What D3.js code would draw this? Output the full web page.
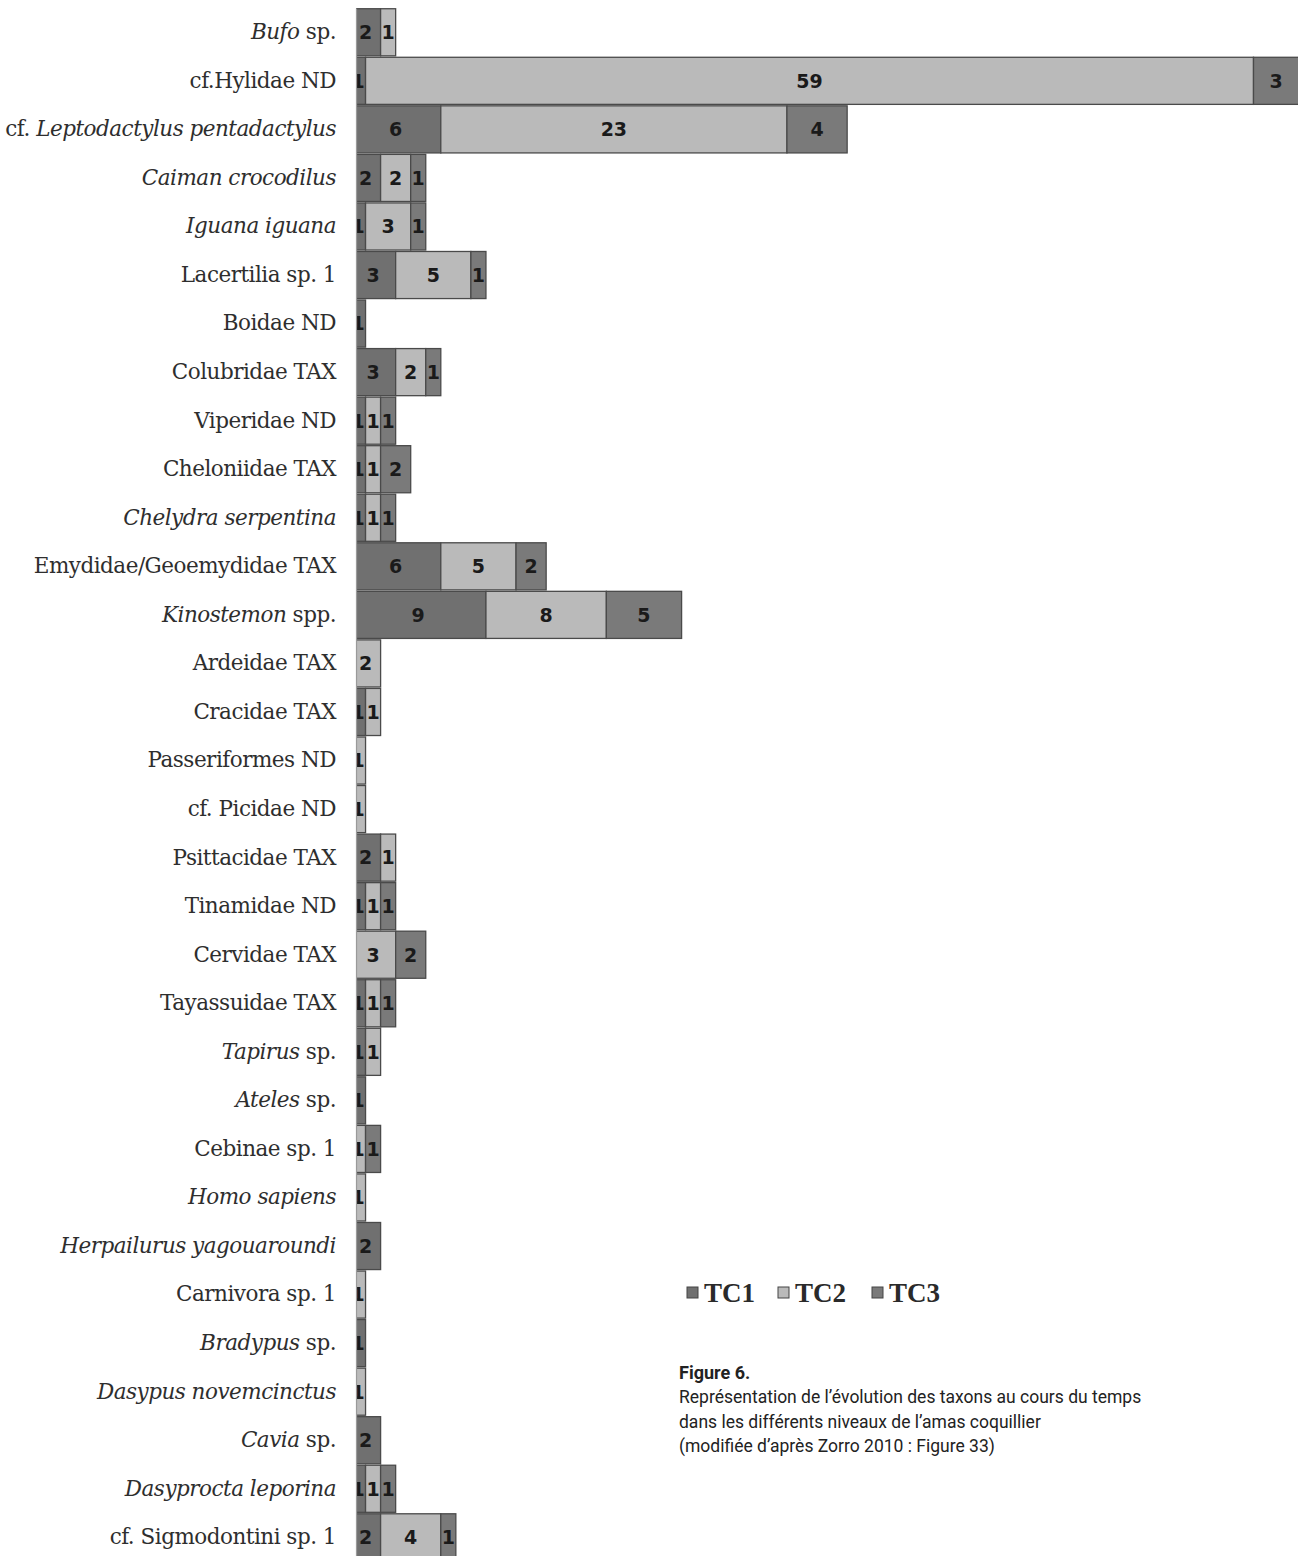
<!DOCTYPE html>
<html><head><meta charset="utf-8">
<script src="https://cdn.jsdelivr.net/npm/d3@7/dist/d3.min.js"></script>
<style>
html,body{margin:0;padding:0;background:#fff;}
svg{display:block;}
</style></head>
<body>
<svg id="chart" width="1298" height="1556"></svg>
<script>
// Categories (segments between <i></i> are italic)
const categories = [
  "<i>Bufo</i> sp.", "cf.Hylidae ND", "cf. <i>Leptodactylus pentadactylus</i>", "<i>Caiman crocodilus</i>",
  "<i>Iguana iguana</i>", "Lacertilia sp. 1", "Boidae ND", "Colubridae TAX", "Viperidae ND",
  "Cheloniidae TAX", "<i>Chelydra serpentina</i>", "Emydidae/Geoemydidae TAX", "<i>Kinostemon</i> spp.",
  "Ardeidae TAX", "Cracidae TAX", "Passeriformes ND", "cf. Picidae ND", "Psittacidae TAX",
  "Tinamidae ND", "Cervidae TAX", "Tayassuidae TAX", "<i>Tapirus</i> sp.", "<i>Ateles</i> sp.",
  "Cebinae sp. 1", "<i>Homo sapiens</i>", "<i>Herpailurus yagouaroundi</i>", "Carnivora sp. 1",
  "<i>Bradypus</i> sp.", "<i>Dasypus novemcinctus</i>", "<i>Cavia</i> sp.", "<i>Dasyprocta leporina</i>",
  "cf. Sigmodontini sp. 1"
];
const seriesNames = ["TC1", "TC2", "TC3"];
const tc1 = [2, 1, 6, 2, 1, 3, 1, 3, 1, 1, 1, 6, 9, 0, 1, 0, 0, 2, 1, 0, 1, 1, 1, 0, 0, 2, 0, 1, 0, 2, 1, 2];
const tc2 = [1, 59, 23, 2, 3, 5, 0, 2, 1, 1, 1, 5, 8, 2, 1, 1, 1, 1, 1, 3, 1, 1, 0, 1, 1, 0, 1, 0, 1, 0, 1, 4];
const tc3 = [0, 3, 4, 1, 1, 1, 0, 1, 1, 2, 1, 2, 5, 0, 0, 0, 0, 0, 1, 2, 1, 0, 0, 1, 0, 0, 0, 0, 0, 0, 1, 1];

const colors = ["#707070", "#bababa", "#7a7a7a"];

const svg = d3.select("#chart");
const axisX = 356;
const x = d3.scaleLinear().domain([0, 63]).range([350.5, 350.5 + 63 * 15.05]);
const y = d3.scaleBand().domain(categories).range([8, 8 + 32 * 48.55]).paddingInner(0.03).paddingOuter(0.015);

const rows = categories.map((c, i) => ({cat: c, TC1: tc1[i], TC2: tc2[i], TC3: tc3[i]}));
const stack = d3.stack().keys(seriesNames)(rows);

const defs = svg.append("defs");
defs.append("clipPath").attr("id", "plot").append("rect")
  .attr("x", axisX).attr("y", 0).attr("width", 1298 - axisX).attr("height", 1556);
const plot = svg.append("g").attr("clip-path", "url(#plot)");
let clipId = 0;
stack.forEach((layer, si) => {
  const g = plot.append("g");
  layer.forEach(d => {
    const w = x(d[1]) - x(d[0]);
    if (w <= 0) return;
    const id = "c" + (clipId++);
    const y0 = y(d.data.cat), h = y.bandwidth();
    defs.append("clipPath").attr("id", id).append("rect")
      .attr("x", x(d[0])).attr("y", y0).attr("width", w).attr("height", h);
    g.append("rect").attr("x", x(d[0])).attr("y", y0).attr("width", w).attr("height", h)
      .attr("fill", colors[si]).attr("stroke", "#4a4a4a").attr("stroke-width", 1.3);
    g.append("text").attr("clip-path", `url(#${id})`)
      .attr("x", (x(d[0]) + x(d[1])) / 2).attr("y", y0 + h / 2).attr("dy", "0.36em")
      .attr("text-anchor", "middle").attr("font-family", "DejaVu Sans").attr("font-weight", "bold")
      .attr("font-size", 19).attr("fill", "#1a1a1a").text(d[1] - d[0]);
  });
});

// category axis
const axis = svg.append("g").attr("transform", `translate(${axisX},0)`)
  .call(d3.axisLeft(y).tickSize(0).tickSizeOuter(0).tickPadding(20));
axis.select(".domain").attr("stroke", "#9a9a9a").attr("stroke-width", 1.2);
axis.selectAll(".tick text").each(function(d) {
  const t = d3.select(this);
  t.text(null).attr("font-family", "DejaVu Serif").attr("font-size", 21.5).attr("fill", "#2e2e2e")
   .attr("letter-spacing", "-0.5px").attr("dy", "0.32em");
  const parts = d.split(/(<i>|<\/i>)/);
  let ital = false;
  parts.forEach(p => {
    if (p === "<i>") { ital = true; return; }
    if (p === "</i>") { ital = false; return; }
    if (!p) return;
    t.append("tspan").attr("font-style", ital ? "italic" : "normal").text(p);
  });
});

// legend
const legend = svg.append("g");
const legX = [687, 778, 872];
seriesNames.forEach((s, i) => {
  legend.append("rect").attr("x", legX[i]).attr("y", 1287).attr("width", 11).attr("height", 11)
    .attr("fill", colors[i]).attr("stroke", "#444").attr("stroke-width", 1);
  legend.append("text").attr("x", legX[i] + 17).attr("y", 1302)
    .attr("font-family", "Liberation Serif").attr("font-weight", "bold").attr("font-size", 27)
    .attr("fill", "#2a2a2a").text(s);
});

// caption
const cap = svg.append("g").attr("font-family", "Liberation Sans Narrow, Roboto, sans-serif").attr("fill", "#222");
cap.append("text").attr("x", 679).attr("y", 1379).attr("font-weight", "bold").attr("font-size", 18).text("Figure 6.");
const capLines = [
  "Représentation de l’évolution des taxons au cours du temps",
  "dans les différents niveaux de l’amas coquillier",
  "(modifiée d’après Zorro 2010 : Figure 33)"
];
capLines.forEach((l, i) => cap.append("text").attr("x", 679).attr("y", 1403 + i * 24.5).attr("font-size", 17.5).text(l));
</script>
</body></html>
